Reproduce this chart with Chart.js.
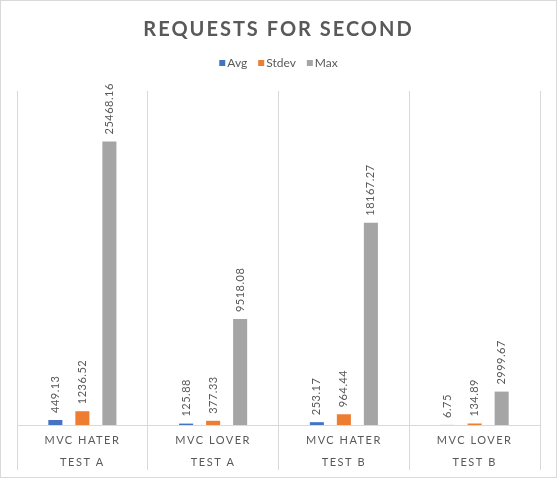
<!DOCTYPE html>
<html>
<head>
<meta charset="utf-8">
<script src="https://cdn.jsdelivr.net/npm/chart.js@4.4.1/dist/chart.umd.min.js"></script>
<style>
html, body { margin: 0; padding: 0; background: #fff; }
#wrap { position: relative; width: 557px; height: 478px; }
</style>
</head>
<body>
<div id="wrap"><canvas id="chart"></canvas></div>
<script>
const chartTitle = "REQUESTS FOR SECOND";
const groups = ["MVC HATER", "MVC LOVER", "MVC HATER", "MVC LOVER"];
const tests = ["TEST A", "TEST A", "TEST B", "TEST B"];
const seriesNames = ["Avg", "Stdev", "Max"];
const seriesColors = ['#4472C4', '#ED7D31', '#A5A5A5'];
const avgValues = [449.13, 125.88, 253.17, 6.75];
const stdevValues = [1236.52, 377.33, 964.44, 134.89];
const maxValues = [25468.16, 9518.08, 18167.27, 2999.67];
const yMax = 30000;

const textColor = '#595959';
const lineColor = '#D9D9D9';

// title, legend, two-row category labels and rotated value labels
const drawExtras = {
    id: 'drawExtras',
    afterDraw(chart) {
        const ctx = chart.ctx;
        const area = chart.chartArea;
        const xScale = chart.scales.x;
        const center = (area.left + area.right) / 2;
        ctx.save();

        ctx.strokeStyle = lineColor;
        ctx.lineWidth = 1;
        ctx.strokeRect(0.5, 0.5, chart.width - 1, chart.height - 1);

        ctx.fillStyle = textColor;
        ctx.font = 'bold 20px Lato';
        ctx.letterSpacing = '2px';
        ctx.textAlign = 'center';
        ctx.textBaseline = 'alphabetic';
        ctx.fillText(chartTitle, center, 36);

        // legend
        ctx.font = '12px Lato';
        ctx.letterSpacing = '0px';
        const box = 6, gapBox = 2, gapItem = 11;
        const items = chart.data.datasets.map(ds => ({
            label: ds.label,
            color: ds.backgroundColor,
            w: ctx.measureText(ds.label).width
        }));
        const total = items.reduce((s, it) => s + box + gapBox + it.w, 0) + gapItem * (items.length - 1);
        let x = center - total / 2;
        ctx.textAlign = 'left';
        ctx.textBaseline = 'middle';
        items.forEach(it => {
            ctx.fillStyle = it.color;
            ctx.fillRect(x, 60, box, box);
            ctx.fillStyle = textColor;
            ctx.fillText(it.label, x + box + gapBox, 63);
            x += box + gapBox + it.w + gapItem;
        });

        // category labels
        ctx.font = '11px Lato';
        ctx.letterSpacing = '1.5px';
        ctx.textAlign = 'center';
        groups.forEach((g, i) => {
            const px = xScale.getPixelForValue(i);
            ctx.fillText(g, px, xScale.top + 15);
            ctx.fillText(tests[i], px, xScale.top + 37);
        });

        // value labels
        ctx.font = '11px Lato';
        ctx.letterSpacing = '0.5px';
        chart.data.datasets.forEach((ds, di) => {
            const meta = chart.getDatasetMeta(di);
            meta.data.forEach((bar, i) => {
                ctx.save();
                ctx.translate(bar.x, bar.y - 7);
                ctx.rotate(-Math.PI / 2);
                ctx.textAlign = 'left';
                ctx.textBaseline = 'middle';
                ctx.fillText(ds.data[i].toFixed(2), 0, 0);
                ctx.restore();
            });
        });
        ctx.restore();
    }
};

const seriesValues = [avgValues, stdevValues, maxValues];

new Chart(document.getElementById('chart'), {
    type: 'bar',
    data: {
        labels: groups,
        datasets: seriesNames.map((name, i) => ({
            label: name,
            data: seriesValues[i],
            backgroundColor: seriesColors[i],
            borderWidth: 0
        }))
    },
    options: {
        responsive: true,
        maintainAspectRatio: false,
        animation: false,
        layout: { padding: { left: 17, right: 17, top: 91, bottom: 8 } },
        datasets: { bar: { categoryPercentage: 0.62, barPercentage: 0.52 } },
        plugins: {
            legend: { display: false },
            title: { display: false },
            tooltip: { enabled: false }
        },
        scales: {
            x: {
                grid: { offset: true, color: lineColor, tickLength: 45 },
                border: { color: lineColor },
                ticks: { display: false }
            },
            y: { display: false, min: 0, max: yMax }
        }
    },
    plugins: [drawExtras]
});
</script>
</body>
</html>
